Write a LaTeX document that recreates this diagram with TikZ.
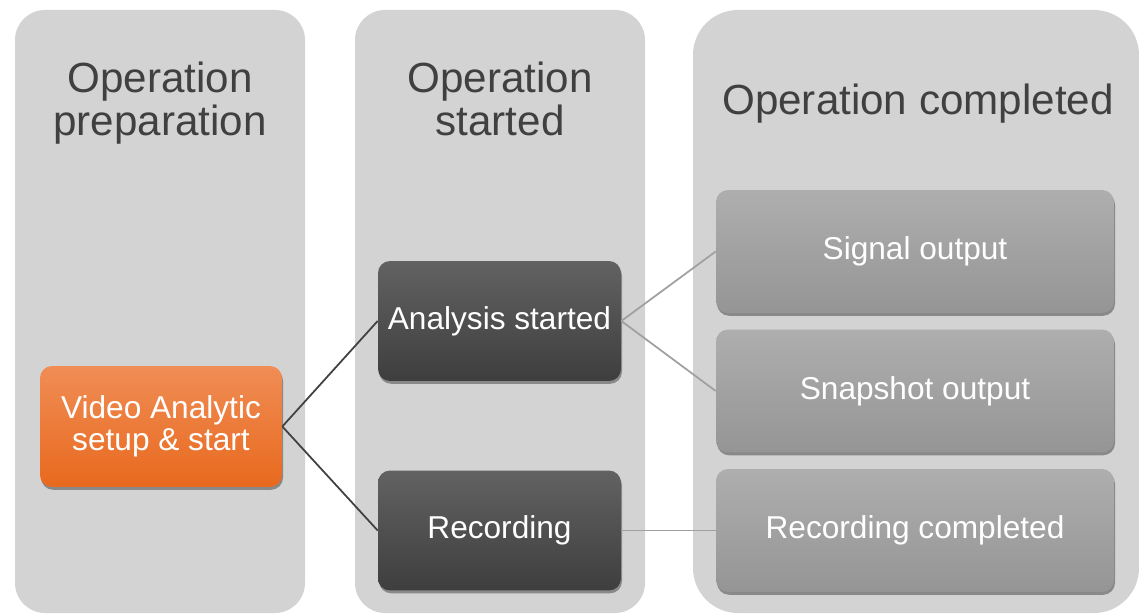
\documentclass[tikz,border=0pt]{standalone}
\usepackage{fontspec}
\setmainfont{Liberation Sans}
\usetikzlibrary{shadows}
\definecolor{colbg}{HTML}{D3D3D3}
\definecolor{titlegray}{HTML}{404040}
\definecolor{orangetop}{HTML}{F08D55}
\definecolor{orangebot}{HTML}{E8691E}
\definecolor{darktop}{HTML}{626262}
\definecolor{darkbot}{HTML}{3E3E3E}
\definecolor{graytop}{HTML}{AEAEAE}
\definecolor{graybot}{HTML}{959595}
\definecolor{linkdark}{HTML}{404040}
\definecolor{linklight}{HTML}{A0A0A0}
\tikzset{
  coltitle/.style={text=titlegray, align=center, font=\fontsize{24}{24.5}\selectfont},
  box/.style={rounded corners=0.24cm, text=white, align=center,
    font=\fontsize{18}{18.3}\selectfont,
    drop shadow={shadow xshift=0.6pt, shadow yshift=-1.6pt, opacity=0.35, fill=black}},
  orangebox/.style={box, top color=orangetop, bottom color=orangebot, minimum width=4.84cm, minimum height=2.42cm},
  darkbox/.style={box, top color=darktop, bottom color=darkbot, minimum width=4.86cm, minimum height=2.4cm},
  graybox/.style={box, top color=graytop, bottom color=graybot, minimum width=7.96cm, minimum height=2.46cm},
  link/.style={line width=1pt}
}
\begin{document}
\begin{tikzpicture}[x=0.02cm, y=-0.02cm]
  \useasboundingbox (0,0) rectangle (1139,614);
  % columns
  \foreach \xa/\xb/\r in {15/305/0.6cm, 355/645/0.6cm, 693/1139/0.9cm} {
      \fill[colbg, rounded corners=\r] (\xa,10) rectangle (\xb,613);
  }
  \node[coltitle] (tprep) at (160,103) {Operation\\preparation};
  \node[coltitle] (tstart) at (500,99) {Operation\\started};
  \node[coltitle] (tdone) at (918,104) {Operation completed};
  % boxes
  \node[orangebox] (setup) at (161,426.5) {Video Analytic\\setup \& start};
  \node[darkbox] (analysis) at (499.5,321) {Analysis started};
  \node[darkbox] (recording) at (499.5,530.5) {Recording};
  \node[graybox] (signal) at (915,251.5) {Signal output};
  \node[graybox] (snapshot) at (915,391) {Snapshot output};
  \node[graybox] (recdone) at (915,530.5) {Recording completed};
  % links
  \draw[link, linkdark] (setup.east) -- (analysis.west);
  \draw[link, linkdark] (setup.east) -- (recording.west);
  \draw[link, linklight] (analysis.east) -- (signal.west);
  \draw[link, linklight] (analysis.east) -- (snapshot.west);
  \draw[link, linklight] (recording.east) -- (recdone.west);
\end{tikzpicture}
\end{document}
